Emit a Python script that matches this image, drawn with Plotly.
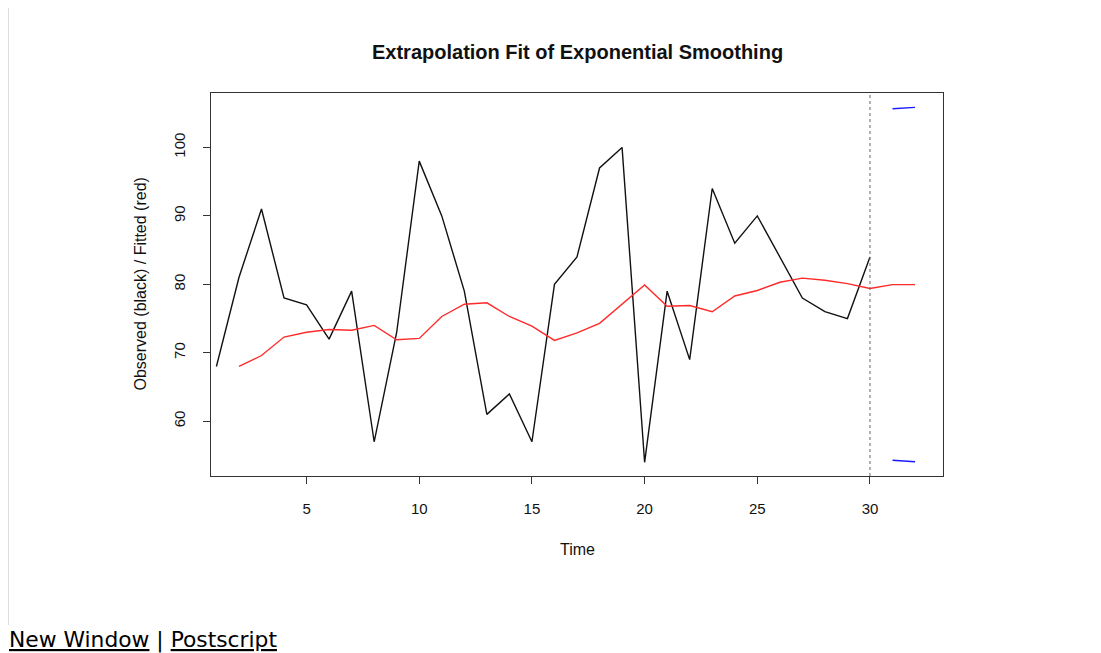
import plotly.graph_objects as go

# ---- data ----
time_obs = list(range(1, 31))
observed = [68, 81, 91, 78, 77, 72, 79, 57, 73, 98,
            90, 79, 61, 64, 57, 80, 84, 97, 100, 54,
            79, 69, 94, 86, 90, 84, 78, 76, 75, 84]

time_fit = list(range(2, 33))
fitted = [68.0, 69.6, 72.3, 73.0, 73.4, 73.3, 74.0, 71.9, 72.1, 75.3,
          77.1, 77.3, 75.3, 73.9, 71.8, 72.9, 74.3, 77.1, 79.9, 76.8,
          76.9, 76.0, 78.3, 79.1, 80.3, 80.9, 80.6, 80.1, 79.4,
          79.95, 79.95]

time_pred = [31, 32]
upper = [105.65, 105.85]
lower = [54.3, 54.08]

x_ticks = [5, 10, 15, 20, 25, 30]
y_ticks = [60, 70, 80, 90, 100]

title_text = "Extrapolation Fit of Exponential Smoothing"
x_label = "Time"
y_label = "Observed (black) / Fitted (red)"
footer = "<u>New Window</u> | <u>Postscript</u>"

# ---- figure (page body has an 8px margin) ----
OFF = 8
W, H = 1101 - OFF, 653 - OFF
L, T = 211 - OFF, 93 - OFF
R = W - (943 - OFF)
B = H - (476 - OFF)
pw, ph = W - L - R, H - T - B

def px2paper_x(p):  # p in page pixels
    return (p - OFF - L) / pw

def px2paper_y(p):
    return (H - B - (p - OFF)) / ph

FONT = "Liberation Sans, Arial, Helvetica, sans-serif"

fig = go.Figure()
fig.add_trace(go.Scatter(x=time_obs, y=observed, mode="lines",
                         line=dict(color="#111111", width=1.4), showlegend=False))
fig.add_trace(go.Scatter(x=time_fit, y=fitted, mode="lines",
                         line=dict(color="#ff2a2a", width=1.4), showlegend=False))
fig.add_trace(go.Scatter(x=time_pred, y=upper, mode="lines",
                         line=dict(color="#1a1aff", width=1.4), showlegend=False))
fig.add_trace(go.Scatter(x=time_pred, y=lower, mode="lines",
                         line=dict(color="#1a1aff", width=1.4), showlegend=False))

# dotted vertical line at end of observed data
fig.add_shape(type="line", xref="x", yref="paper", x0=time_obs[-1], x1=time_obs[-1],
              y0=0, y1=1, line=dict(color="#666666", width=1, dash="dot"))

# thin grey page border on left
fig.add_shape(type="line", xref="paper", yref="paper",
              x0=px2paper_x(8.5), x1=px2paper_x(8.5), y0=px2paper_y(8), y1=px2paper_y(625),
              line=dict(color="#dddddd", width=1))

fig.update_layout(
    width=W, height=H,
    margin=dict(l=L, r=R, t=T, b=B),
    paper_bgcolor="white", plot_bgcolor="white",
    font=dict(family=FONT, color="#111111"),
    xaxis=dict(range=[0.76, 33.24], tickvals=x_ticks, showgrid=False, zeroline=False,
               showline=True, linecolor="#333333", linewidth=1.2, mirror=True,
               ticks="outside", ticklen=7, tickcolor="#333333", tickwidth=1.2,
               tickfont=dict(size=15, family=FONT, color="#111111"),
               ticklabelstandoff=12),
    yaxis=dict(range=[52.0, 107.95], tickvals=y_ticks, showgrid=False, zeroline=False,
               showline=True, linecolor="#333333", linewidth=1.2, mirror=True,
               ticks="outside", ticklen=7, tickcolor="#333333", tickwidth=1.2,
               tickangle=-90,
               tickfont=dict(size=15, family=FONT, color="#111111"),
               ticklabelstandoff=12),
    annotations=[
        dict(text="<b>" + title_text + "</b>", xref="paper", yref="paper",
             x=0.5, y=px2paper_y(52), xanchor="center", yanchor="middle",
             showarrow=False, font=dict(size=20, family=FONT, color="#111111")),
        dict(text=x_label, xref="paper", yref="paper",
             x=0.5, y=px2paper_y(549), xanchor="center", yanchor="middle",
             showarrow=False, font=dict(size=16, family=FONT, color="#111111")),
        dict(text=y_label, xref="paper", yref="paper",
             x=px2paper_x(140), y=0.5, xanchor="center", yanchor="middle",
             textangle=-90,
             showarrow=False, font=dict(size=16, family=FONT, color="#111111")),
        dict(text=footer, xref="paper", yref="paper",
             x=px2paper_x(7), y=px2paper_y(640), xanchor="left", yanchor="middle",
             showarrow=False, font=dict(size=21.8, family="DejaVu Sans, Verdana, sans-serif",
                                        color="#000000")),
    ],
)

fig.write_html("out.html")
